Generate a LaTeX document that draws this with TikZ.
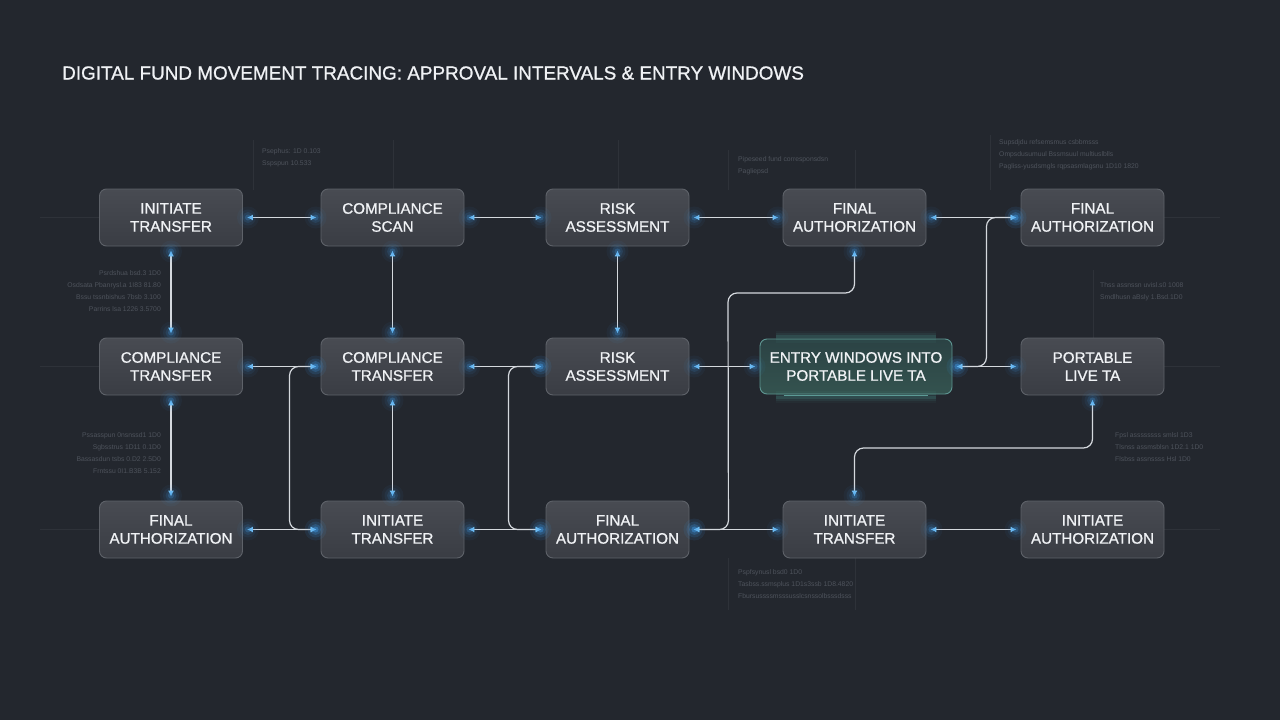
\documentclass[tikz,border=0pt]{standalone}
\usepackage{fontspec}
\setmainfont{Liberation Sans}
\newfontfamily\medfont[FakeBold=0.9]{Liberation Sans}
\usetikzlibrary{arrows.meta,positioning,decorations.markings,calc}
\definecolor{bg}{HTML}{23272E}
\definecolor{boxtop}{HTML}{484B52}
\definecolor{boxbot}{HTML}{3A3D44}
\definecolor{boxline}{HTML}{5E6269}
\definecolor{ink}{HTML}{F0F2F5}
\definecolor{wire}{HTML}{D5D9DE}
\definecolor{tip}{HTML}{7CC6F7}
\definecolor{glow}{HTML}{3F9BE8}
\definecolor{teal}{HTML}{5ED6C4}
\definecolor{tealtop}{HTML}{2B4244}
\definecolor{tealbot}{HTML}{34534F}
\definecolor{note}{HTML}{4E535C}
\definecolor{grid}{HTML}{2E3239}
\newcommand{\glowdot}{\foreach \r/\o in {11/.05,8/.08,5.5/.13,3/.25}{\fill[glow,opacity=\o] (0,0) circle (\r pt);}}

\begin{document}
\begin{tikzpicture}[x=1pt,y=-1pt,
  box/.style={draw=boxline,top color=boxtop,bottom color=boxbot,rounded corners=7pt,line width=.9pt,
              minimum width=143pt,minimum height=57pt,align=center,text=ink,
              font=\medfont\fontsize{15.2}{18}\selectfont},
  hot/.style={box,draw=teal!45!boxline,top color=tealtop,bottom color=tealbot,minimum width=192pt,minimum height=55pt},
  ar/.style={{Latex[length=6pt,width=6pt,color=tip]}-{Latex[length=6pt,width=6pt,color=tip]},draw=wire,
             line width=1.2pt,shorten <=4pt,shorten >=4pt,rounded corners=9pt,
             postaction={decorate,decoration={markings,mark=at position 5pt with {\glowdot},
                                                      mark=at position -5pt with {\glowdot}}}},
  note/.style={text=note,font=\fontsize{6.8}{12}\selectfont,inner sep=0pt},
  faint/.style={draw=grid,line width=.8pt}]
\useasboundingbox (0,0) rectangle (1280,720);
\fill[bg] (0,0) rectangle (1280,720);

% faint guide lines
\foreach \x/\a/\b in {253/140/190,393/140/189,618/140/189,728/150/190,855/150/189,990/135/190,
                      1093/270/338,728/558/610,855/558/610}
  \draw[faint] (\x,\a) -- (\x,\b);
\foreach \y in {217,366,529} {
  \draw[faint] (40,\y) -- (100,\y);
  \draw[faint] (1164,\y) -- (1220,\y);
}

\node[anchor=west,text=ink,font=\medfont\fontsize{18.9}{22}\selectfont,inner sep=0pt] (title) at (62,73)
  {DIGITAL FUND MOVEMENT TRACING: APPROVAL INTERVALS \& ENTRY WINDOWS};

% row 1
\node[box] (init1) at (171,217.5) {INITIATE\\TRANSFER};
\node[box] (scan) at (392.5,217.5) {COMPLIANCE\\SCAN};
\node[box] (risk1) at (617.5,217.5) {RISK\\ASSESSMENT};
\node[box] (authA) at (854.5,217.5) {FINAL\\AUTHORIZATION};
\node[box] (authB) at (1092.5,217.5) {FINAL\\AUTHORIZATION};
% row 2
\node[box] (compA) at (171,366.5) {COMPLIANCE\\TRANSFER};
\node[box] (compB) at (392.5,366.5) {COMPLIANCE\\TRANSFER};
\node[box] (risk2) at (617.5,366.5) {RISK\\ASSESSMENT};
\node[hot] (entry) at (856,366.5) {ENTRY WINDOWS INTO\\PORTABLE LIVE TA};
\node[box] (live) at (1092.5,366.5) {PORTABLE\\LIVE TA};
% row 3
\node[box] (authC) at (171,529.5) {FINAL\\AUTHORIZATION};
\node[box] (init2) at (392.5,529.5) {INITIATE\\TRANSFER};
\node[box] (authD) at (617.5,529.5) {FINAL\\AUTHORIZATION};
\node[box] (init3) at (854.5,529.5) {INITIATE\\TRANSFER};
\node[box] (initauth) at (1092.5,529.5) {INITIATE\\AUTHORIZATION};

% teal glow on the entry window
\foreach \w/\o in {12/.04,7/.07,3/.12} {
  \draw[teal,line width=\w pt,opacity=\o] ($(entry.north west)+(16,-2)$) -- ($(entry.north east)+(-16,-2)$);
  \draw[teal,line width=\w pt,opacity=\o] ($(entry.south west)+(16,3)$) -- ($(entry.south east)+(-16,3)$);
}
\draw[teal!80!white,line width=.8pt,opacity=.6] ($(entry.south west)+(24,1)$) -- ($(entry.south east)+(-24,1)$);

% connectors
\foreach \p/\q in {init1/scan,scan/risk1,risk1/authA,authA/authB,compA/compB,compB/risk2,risk2/entry,
                   entry/live,authC/init2,init2/authD,authD/init3,init3/initauth}
  \draw[ar] (\p.east) -- (\q.west);
\foreach \p/\q in {init1/compA,compA/authC,scan/compB,compB/init2,risk1/risk2}
  \draw[ar] (\p.south) -- (\q.north);
\draw[ar] (compB.west) -- ++(-31,0) |- (init2.west);
\draw[ar] (risk2.west) -- ++(-37,0) |- (authD.west);
\draw[ar] (authD.east) -- ++(39,0) -- (728,293) -| (authA.south);
\draw[ar] (entry.east) -- ++(34,0) |- (authB.west);
\draw[ar] (init3.north) |- (1092.5,448) -- (live.south);

% side notes
\node[note,anchor=north west,align=left] (n1) at (262,148) {Psephus: 1D 0.103\\Sspspun 10.533};
\node[note,anchor=north west,align=left] (n2) at (738,156) {Pipeseed fund corresponsdsn\\Pagliepsd};
\node[note,anchor=north west,align=left] (n3) at (999,139)
  {Supsdjdu refsemsmus csbbmsss\\Ompsdusumuul Bssmsuul multiuslblls\\Pagliss-yusdsmgls rqpsasmlagsnu 1D10 1820};
\node[note,anchor=north east,align=right] (n4) at (161,270)
  {Psrdshua bsd.3 1D0\\Osdsata Pbanrysl.a 1I83 81.80\\Bssu tssnbishus 7bsb 3.100\\Parrins lsa 1226 3.5700};
\node[note,anchor=north west,align=left] (n5) at (1100,282) {Thss assnssn uvisl.s0 1008\\Smdlhusn aBsly 1.Bsd.1D0};
\node[note,anchor=north east,align=right] (n6) at (161,432)
  {Pssasspun 0nsnssd1 1D0\\Sgbsstrus 1D11 0.1D0\\Bassasdun tsbs 0.D2 2.5D0\\Frntssu 0I1.B3B 5.152};
\node[note,anchor=north west,align=left] (n7) at (1115,432)
  {Fpsl assssssss smlsl 1D3\\Tlsnss assmsblsn 1D2.1 1D0\\Flsbss assnssss Hsl 1D0};
\node[note,anchor=north west,align=left] (n8) at (738,569)
  {Pspfsynusl bsd0 1D0\\Tasbss.ssmsplus 1D1s3ssb 1D8.4820\\Fbursussssmsssusslcsnssolbsssdsss};
\end{tikzpicture}
\end{document}
